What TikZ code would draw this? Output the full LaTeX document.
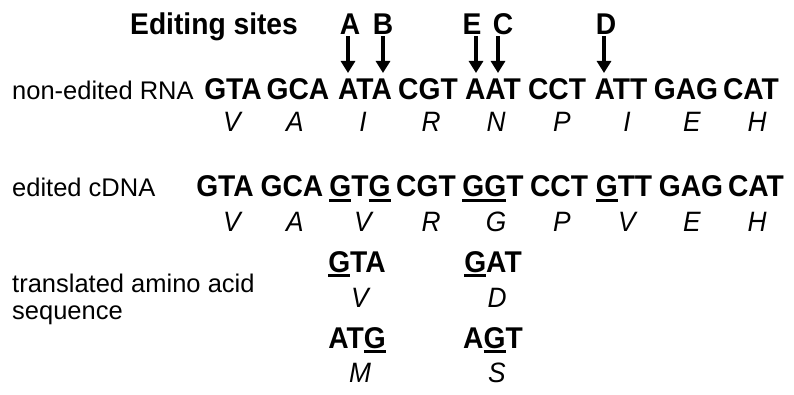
\documentclass[tikz,border=0pt]{standalone}
\usepackage{fontspec}
\setmainfont{Liberation Sans}
\newfontfamily\narrowsans[FakeStretch=0.94]{Liberation Sans}
\usepackage{tikz}
\usetikzlibrary{arrows.meta}

% underline for an edited base
\newcommand{\siteul}[1]{\setbox0\hbox{#1}\rlap{\rule[-4.5pt]{\wd0}{2.4pt}}\box0}

\begin{document}
\begin{tikzpicture}[
    x=1pt, y=1pt,
    codon/.style={
      font=\narrowsans\fontsize{30}{32}\selectfont\bfseries,
      inner sep=0pt,
      anchor=base
    },
    amino/.style={
      font=\narrowsans\fontsize{28}{30}\selectfont\itshape,
      inner sep=0pt,
      anchor=base
    },
    rowlabel/.style={
      font=\fontsize{25.5}{28}\selectfont,
      inner sep=0pt,
      anchor=base west
    },
    sitelabel/.style={
      font=\narrowsans\fontsize{30}{32}\selectfont\bfseries,
      inner sep=1pt,
      anchor=base
    },
    sitearrow/.style={
      -{Triangle[width=14pt,length=12pt]},
      line width=3.3pt
    }
  ]

    \useasboundingbox (0,0) rectangle (794,-395);

    % Editing sites
    \node[sitelabel, anchor=base west, inner sep=0pt] (edsites) at (130,-35) {Editing sites};
    \foreach \s/\lx/\x in {A/350/348, B/383/383, E/472/476, C/503/498, D/606/604} {
      \node[sitelabel] (s\s) at (\lx,-35) {\s};
      \coordinate (t\s) at (\x,-73);
      \draw[sitearrow] (s\s.south -| t\s) -- (t\s);
    }

    % Non-edited RNA
    \node[rowlabel] (lblrna) at (12,-100) {non-edited RNA};
    \foreach \x/\c [count=\i] in {233/GTA, 298/GCA, 365/ATA, 428/CGT, 493/AAT, 557/CCT, 621/ATT, 686/GAG, 751/CAT}
      \node[codon] (rna\i) at (\x,-100) {\c};
    \foreach \x/\a [count=\i] in {232/V, 295/A, 363/I, 431/R, 496/N, 562/P, 627/I, 692/E, 757/H}
      \node[amino] (aarna\i) at (\x,-132) {\a};

    % Edited cDNA
    \node[rowlabel] (lblcdna) at (12,-197) {edited cDNA};
    \foreach \x/\c [count=\i] in {225/GTA, 292/GCA, 360/{\siteul{G}T\siteul{G}}, 426/CGT, 493/{\siteul{GG}T}, 559/CCT, 624/{\siteul{G}TT}, 691/GAG, 756/CAT}
      \node[codon] (cdna\i) at (\x,-197) {\c};
    \foreach \x/\a [count=\i] in {232/V, 295/A, 363/V, 431/R, 496/G, 562/P, 627/V, 692/E, 757/H}
      \node[amino] (aacdna\i) at (\x,-232) {\a};

    % Translated amino acid sequence
    \node[rowlabel] (lbltrans) at (12,-292) {translated amino acid};
    \node[rowlabel] (lblseq) at (12,-319) {sequence};

    \node[codon] (gta) at (357,-272) {\siteul{G}TA};
    \node[amino] (aagta) at (360,-307) {V};
    \node[codon] (gat) at (493,-272) {\siteul{G}AT};
    \node[amino] (aagat) at (497,-307) {D};

    \node[codon] (atg) at (357,-348) {AT\siteul{G}};
    \node[amino] (aaatg) at (360,-382) {M};
    \node[codon] (agt) at (493,-348) {A\siteul{G}T};
    \node[amino] (aaagt) at (497,-382) {S};

  \end{tikzpicture}
\end{document}
